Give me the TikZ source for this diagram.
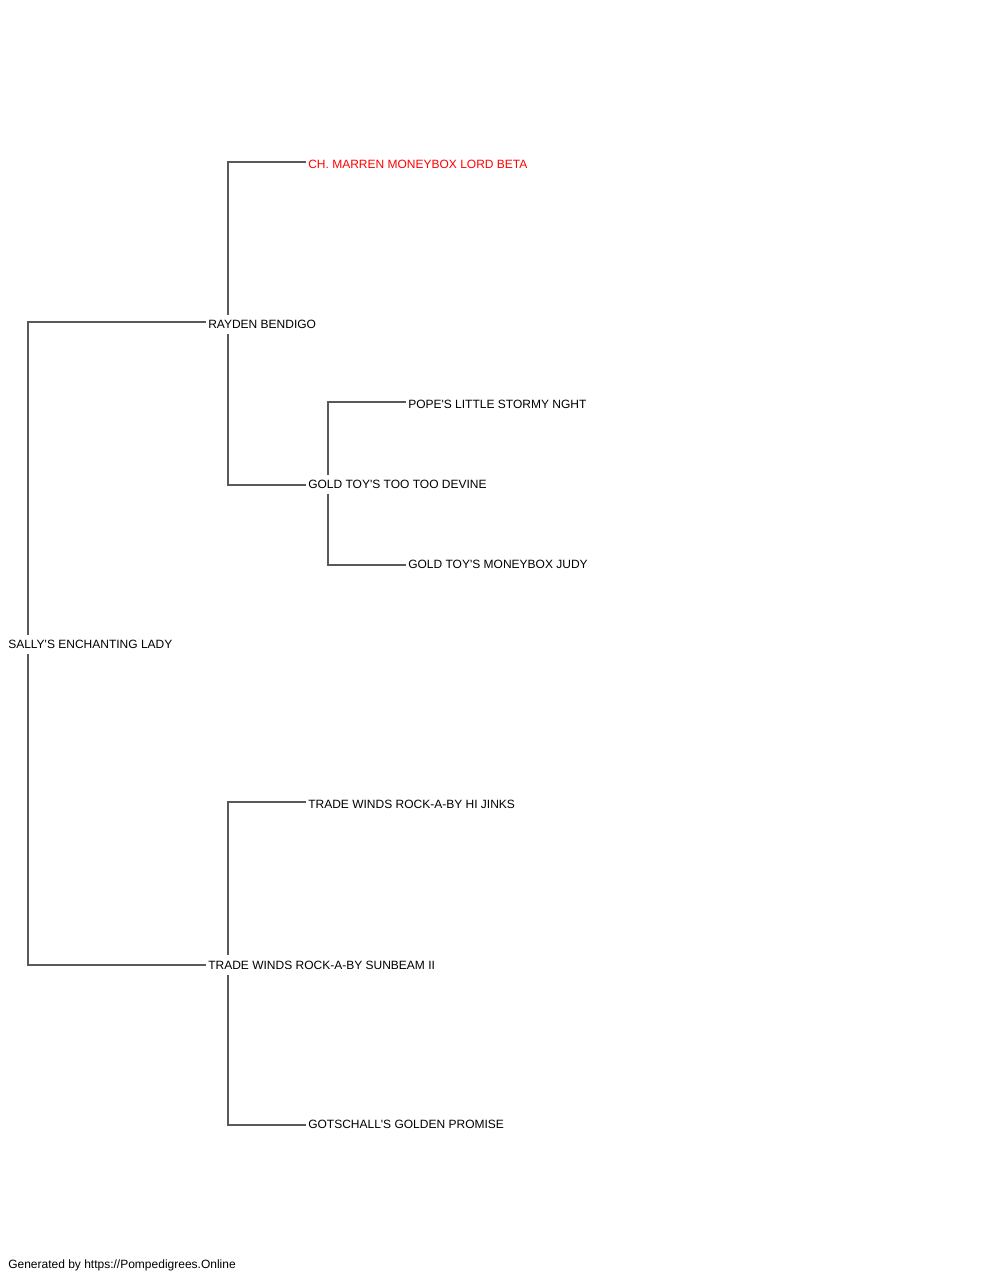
\documentclass[tikz,border=0pt]{standalone}
\usepackage{fontspec}
\setmainfont{Liberation Sans}
\usepackage{tikz}

\begin{document}
\begin{tikzpicture} [x = 0.75pt, y = -0.75pt,
  dog/.style = {anchor = west, inner xsep = 1.5pt, inner ysep = 3.875pt, text height = 6.5pt, text depth = 0pt, font = \fontsize{9pt}{11pt}\selectfont},
  link/.style = {draw = black!65, line width = 1pt}]
\useasboundingbox (0, 0) rectangle (1000, 1280);
\node[dog] (sally) at (6, 644.3){SALLY\textquotesingle S ENCHANTING LADY};
\node[dog] (rayden) at (206, 324.3){RAYDEN BENDIGO};
\node[dog] (tradewinds) at (206, 964.8){TRADE WINDS ROCK-A-BY SUNBEAM II};
\node[dog, text = red] (marren) at (306, 164.3){CH. MARREN MONEYBOX LORD BETA};
\node[dog] (goldtoy) at (306, 484.3){GOLD TOY\textquotesingle S TOO TOO DEVINE};
\node[dog] (pope) at (406, 404.3){POPE\textquotesingle S LITTLE STORMY NGHT};
\node[dog] (judy) at (406, 564.3){GOLD TOY\textquotesingle S MONEYBOX JUDY};
\node[dog] (hijinks) at (306, 804.3){TRADE WINDS ROCK-A-BY HI JINKS};
\node[dog] (gotschall) at (306, 1124.3){GOTSCHALL\textquotesingle S GOLDEN PROMISE};
\node[dog] (footer) at (6, 1264.3){Generated by https://Pompedigrees.Online};
\draw[link] ([xshift = 16.5pt]sally.north west) |- ([yshift = 1.7pt]rayden.west);
\draw[link] ([xshift = 16.5pt]sally.south west) |- ([yshift = -0.2pt]tradewinds.west);
\draw[link] ([xshift = 16.5pt]rayden.north west) |- ([yshift = 1.7pt]marren.west);
\draw[link] ([xshift = 16.5pt]rayden.south west) |- ([yshift = -0.5pt]goldtoy.west);
\draw[link] ([xshift = 16.5pt]goldtoy.north west) |- ([yshift = 1.7pt]pope.west);
\draw[link] ([xshift = 16.5pt]goldtoy.south west) |- ([yshift = -0.5pt]judy.west);
\draw[link] ([xshift = 16.5pt]tradewinds.north west) |- ([yshift = 1.7pt]hijinks.west);
\draw[link] ([xshift = 16.5pt]tradewinds.south west) |- ([yshift = -0.5pt]gotschall.west);
\end{tikzpicture}
\end{document}
